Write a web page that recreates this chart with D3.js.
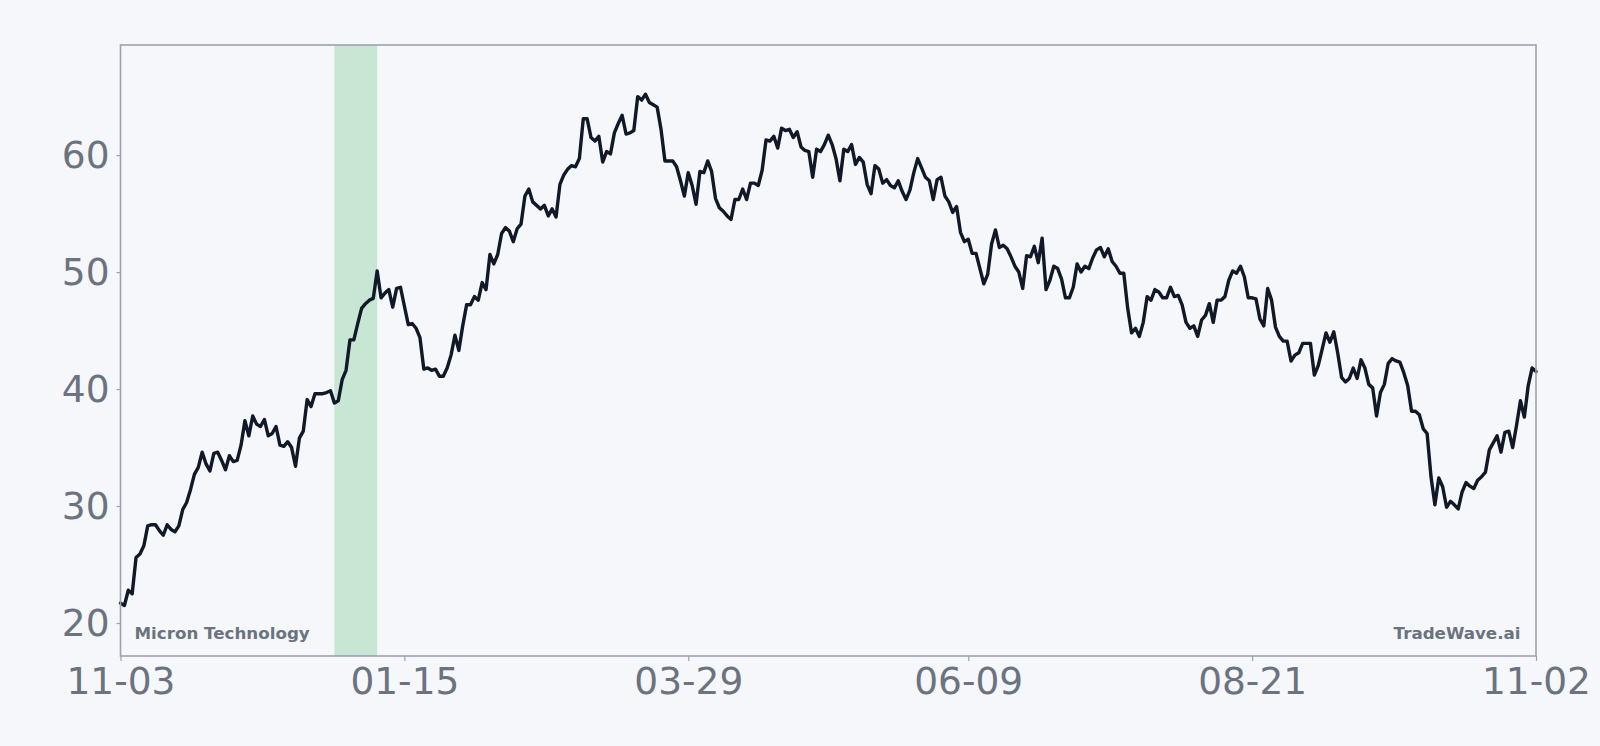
<!DOCTYPE html>
<html><head><meta charset="utf-8">
<script src="https://cdn.jsdelivr.net/npm/d3@7"></script>
<style>html,body{margin:0;padding:0;background:#f5f7fa;} svg{display:block;}</style>
</head><body><svg id="chart" width="1600" height="746"></svg>
<script>
const startDate = "2022-11-03";
const tickDates = ["2022-11-03","2023-01-15","2023-03-29","2023-06-09","2023-08-21","2023-11-02"];
const yTicks = [20, 30, 40, 50, 60];
const yDomain = [17.18, 69.41];
const highlight = ["2022-12-28", "2023-01-08"];
const labelLeft = "Micron Technology";
const labelRight = "TradeWave.ai";
const prices = [
21.7, 21.5, 22.8, 22.5, 25.6, 25.9, 26.6, 28.3, 28.4, 28.4,
27.9, 27.5, 28.4, 28.0, 27.8, 28.3, 29.7, 30.3, 31.4, 32.7,
33.3, 34.6, 33.6, 33.0, 34.5, 34.6, 33.9, 33.1, 34.3, 33.8,
33.9, 35.2, 37.3, 36.0, 37.7, 37.0, 36.8, 37.4, 36.0, 36.2,
36.8, 35.2, 35.1, 35.5, 35.0, 33.4, 35.8, 36.4,
39.1, 38.5, 39.6, 39.6, 39.6, 39.7, 39.85, 38.8, 39.0, 40.8, 41.6, 44.2, 44.2, 45.6,
46.9, 47.3, 47.6, 47.75, 50.1, 47.8, 48.2, 48.5, 47.0, 48.6, 48.7, 47.1, 45.5, 45.6,
45.2, 44.4, 41.7, 41.8, 41.6,
41.7, 41.1, 41.1, 41.8, 42.9, 44.6, 43.3, 45.4, 47.2, 47.2,
47.9, 47.6, 49.1, 48.5, 51.5, 50.7, 51.5, 53.3, 53.8, 53.5,
52.6, 53.7, 54.1, 56.5, 57.1, 56.0, 55.7, 55.4, 55.7, 54.8,
55.4, 54.7, 57.5, 58.3, 58.8, 59.1, 59.0, 59.7, 63.1, 63.1,
61.5, 61.2, 61.6, 59.4, 60.3, 60.1, 61.9, 62.7, 63.4, 61.8,
61.9, 62.1, 65.0, 64.7, 65.2, 64.5, 64.3, 64.1, 62.2, 59.5,
59.5, 59.5, 59.0, 57.8, 56.5, 58.5, 57.4, 55.8, 58.6, 58.5,
59.5, 58.6, 56.3, 55.5, 55.2, 54.8, 54.5, 56.2, 56.2, 57.1,
56.2, 57.6, 57.6, 57.4, 58.7, 61.3, 61.2, 61.6, 60.6, 62.3,
62.1, 62.2, 61.5, 62.0, 60.7, 60.4, 60.3, 58.1, 60.5, 60.3,
60.9, 61.7, 60.9, 59.7, 57.8, 60.5, 60.3, 60.9, 59.2, 59.8,
59.4, 57.5, 56.7, 59.1, 58.8, 57.6, 57.9, 57.4, 57.2, 57.8,
56.9, 56.2, 57.0, 58.5, 59.7, 58.9, 58.1, 57.8, 56.2, 57.9,
58.1, 56.5, 56.0, 55.1, 55.6, 53.4, 52.6, 52.8, 51.6, 51.6,
50.3, 49.0, 49.8, 52.4, 53.6, 52.1, 52.3, 52.0, 51.3, 50.5,
50.0, 48.6, 51.4, 51.3, 52.2, 50.8, 52.9, 48.5, 49.3, 50.5,
50.3, 49.4, 47.8, 47.8, 48.7, 50.7, 50.0, 50.5, 50.3, 51.2,
51.9, 52.1, 51.3, 52.0, 50.9, 50.5, 49.9, 49.9, 46.9, 44.8,
45.2, 44.5, 45.7, 47.9, 47.6, 48.5, 48.3, 47.8, 47.8, 48.7,
47.9, 48.0, 47.2, 45.7, 45.2, 45.4, 44.5, 45.9, 46.3, 47.3,
45.7, 47.6, 47.6, 47.9, 49.3, 50.1, 49.9, 50.5, 49.6, 47.8,
47.8, 47.7, 46.0, 45.4, 48.6, 47.6, 45.3, 44.5, 44.1, 44.1,
42.4, 42.9, 43.1, 43.9, 43.9, 43.9, 41.2, 42.0, 43.4, 44.8,
44.0, 44.9, 43.1, 41.0, 40.6, 40.9, 41.8, 40.9, 42.5, 41.8,
40.4, 40.1, 37.7, 39.7, 40.4, 42.2, 42.6, 42.4, 42.3, 41.4,
40.3, 38.1, 38.1,
37.8, 36.6, 36.2, 32.5, 30.1, 32.4, 31.65, 29.9, 30.4, 30.1,
29.75, 31.2, 32.0, 31.7, 31.5, 32.2, 32.5, 32.9, 34.8, 35.4,
36.0, 34.6, 36.3, 36.4, 35.0, 36.9, 39.0, 37.6, 40.3, 41.8,
41.5
];

const parse = d3.timeParse("%Y-%m-%d");
const start = parse(startDate);
const data = prices.map((v, i) => ({ date: d3.timeDay.offset(start, i), value: v }));

const L = 120.5, R = 1536, T = 45, B = 656;
const svg = d3.select("#chart");
svg.append("rect").attr("width", 1600).attr("height", 746).attr("fill", "#f5f7fa");

const x = d3.scaleTime().domain([data[0].date, data[data.length - 1].date]).range([L, R]);
const y = d3.scaleLinear().domain(yDomain).range([B, T]);

// highlight band
svg.append("rect")
  .attr("x", x(parse(highlight[0])))
  .attr("y", T)
  .attr("width", x(parse(highlight[1])) - x(parse(highlight[0])))
  .attr("height", B - T)
  .attr("fill", "#c8e6d4");

// line
svg.append("path")
  .datum(data)
  .attr("fill", "none")
  .attr("stroke", "#111827")
  .attr("stroke-width", 3.4)
  .attr("stroke-linejoin", "round")
  .attr("stroke-linecap", "round")
  .attr("d", d3.line().x(d => x(d.date)).y(d => y(d.value)));

// axes
const fmt = d3.timeFormat("%m-%d");
const xAxis = svg.append("g").attr("transform", `translate(0,${B})`)
  .call(d3.axisBottom(x).tickValues(tickDates.map(parse)).tickFormat(fmt).tickSize(5).tickPadding(6));
const yAxis = svg.append("g").attr("transform", `translate(${L},0)`)
  .call(d3.axisLeft(y).tickValues(yTicks).tickSize(4).tickPadding(7));
[xAxis, yAxis].forEach(g => {
  g.select(".domain").remove();
  g.selectAll(".tick line").attr("stroke", "#9ca3af").attr("stroke-width", 1.2);
  g.selectAll(".tick text").attr("fill", "#6b7280")
    .style("font-family", "'DejaVu Sans', sans-serif").style("font-size", "37.5px");
});

// frame
svg.append("rect")
  .attr("x", L).attr("y", T).attr("width", R - L).attr("height", B - T)
  .attr("fill", "none").attr("stroke", "#9ca3af").attr("stroke-width", 1.6);

// annotations
svg.append("text").attr("x", L + 14).attr("y", 639).text(labelLeft)
  .attr("fill", "#6b7280").style("font-family", "'DejaVu Sans', sans-serif")
  .style("font-size", "16.7px").style("font-weight", "bold");
svg.append("text").attr("x", R - 15.5).attr("y", 639).attr("text-anchor", "end").text(labelRight)
  .attr("fill", "#6b7280").style("font-family", "'DejaVu Sans', sans-serif")
  .style("font-size", "16.7px").style("font-weight", "bold");
</script>
</body></html>
